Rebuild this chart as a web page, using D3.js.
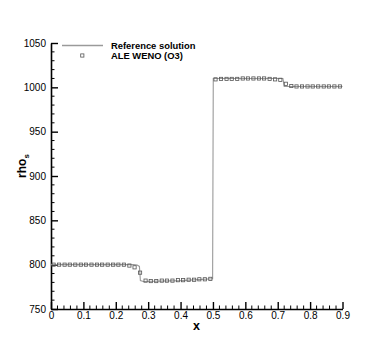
<!DOCTYPE html>
<html><head><meta charset="utf-8">
<script src="https://cdn.jsdelivr.net/npm/d3@7"></script>
<style>
html,body{margin:0;padding:0;background:#fff;}
svg{display:block;font-family:"Liberation Sans",Arial,Helvetica,sans-serif;}
</style></head>
<body><svg id="c" width="390" height="347"></svg>
<script>
// ---- data ----
const xTicks = [0,0.1,0.2,0.3,0.4,0.5,0.6,0.7,0.8,0.9];
const yTicks = [750,800,850,900,950,1000,1050];
const refX = [0,0.255,0.266,0.273,0.276,0.285,0.4,0.499,0.501,0.6,0.716,0.72,0.9];
const refY = [800,800,799.5,798,782,781,782,784,1010,1010,1010,1001,1001];
const aleX = [0.008,0.025,0.042,0.058,0.075,0.092,0.108,0.125,0.142,0.158,0.175,0.192,0.208,0.225,
  0.242,0.258,0.275,0.292,0.308,0.325,0.342,0.358,0.375,0.392,0.408,0.425,0.442,0.458,0.475,0.492,
  0.508,0.525,0.542,0.558,0.575,0.592,0.608,0.625,0.642,0.658,0.675,0.692,0.708,0.725,0.742,0.758,
  0.775,0.792,0.808,0.825,0.842,0.858,0.875,0.892];
const aleY = [800,800,800,800,800,800,800,800,800,800,800,800,800,800,
  799,797,791,782,781.5,781.5,782,782,782,782.5,782.5,783,783,783.5,783.5,784,
  1009,1009.5,1009.5,1009.5,1009.5,1010,1010,1010,1010,1010,1009.5,1009,1008.5,1004,1001.5,1001,
  1001,1001,1001,1001,1001,1001,1001,1001];
const seriesNames = ["Reference solution","ALE WENO (O3)"];

// ---- chart ----
const svg = d3.select("#c");
const x = d3.scaleLinear().domain([0,0.9]).range([51,342.5]);
const y = d3.scaleLinear().domain([750,1050]).range([309,43]);

const minorX = d3.range(0,0.9001,0.02).filter(v=>Math.abs(v*10-Math.round(v*10))>1e-6);
const minorY = d3.range(750,1050.1,10).filter(v=>v%50!==0);

// minor ticks
svg.append("g").selectAll("line").data(minorX).join("line")
  .attr("x1",d=>x(d)).attr("x2",d=>x(d)).attr("y1",y(750)).attr("y2",y(750)-3.5)
  .attr("stroke","#000").attr("stroke-width",1);
svg.append("g").selectAll("line").data(minorY).join("line")
  .attr("y1",d=>y(d)).attr("y2",d=>y(d)).attr("x1",x(0)).attr("x2",x(0)+3.5)
  .attr("stroke","#000").attr("stroke-width",1);

const gx = svg.append("g").attr("transform",`translate(0,${y(750)})`)
  .call(d3.axisBottom(x).tickValues(xTicks).tickSizeInner(-7).tickSizeOuter(0).tickPadding(3)
    .tickFormat(d=>d===0?"0":d3.format(".1f")(d)));
const gy = svg.append("g").attr("transform",`translate(${x(0)},0)`)
  .call(d3.axisLeft(y).tickValues(yTicks).tickSizeInner(-7).tickSizeOuter(0).tickPadding(5)
    .tickFormat(d3.format("d")));
[gx,gy].forEach(g=>{
  g.select(".domain").attr("stroke","#000").attr("stroke-width",1.6);
  g.selectAll(".tick line").attr("stroke","#000").attr("stroke-width",1.4);
  g.selectAll(".tick text").attr("font-size",10).attr("fill","#000")
    .attr("font-family","'Liberation Sans',Arial,sans-serif");
});

// reference line
const line = d3.line().x((d,i)=>x(refX[i])).y((d,i)=>y(refY[i]));
svg.append("path").datum(refX).attr("d",line).attr("fill","none")
  .attr("stroke","#9a9a9a").attr("stroke-width",1.1);

// markers
svg.append("g").selectAll("rect").data(aleX).join("rect")
  .attr("x",(d,i)=>x(d)-1.6).attr("y",(d,i)=>y(aleY[i])-1.6)
  .attr("width",3.2).attr("height",3.2)
  .attr("fill","none").attr("stroke","#555").attr("stroke-width",0.8);

// legend
svg.append("line").attr("x1",62).attr("x2",103).attr("y1",45.5).attr("y2",45.5)
  .attr("stroke","#9a9a9a").attr("stroke-width",1.3);
svg.append("rect").attr("x",82.3-1.6).attr("y",55.5-1.6).attr("width",3.2).attr("height",3.2)
  .attr("fill","none").attr("stroke","#555").attr("stroke-width",0.8);
svg.append("g").selectAll("text").data(seriesNames).join("text")
  .attr("x",111).attr("y",(d,i)=>45.5+i*10.5).attr("dy","0.35em")
  .attr("font-size",9.4).attr("font-weight","bold").attr("fill","#000").text(d=>d);

// axis titles
svg.append("text").attr("x",196.5).attr("y",326).attr("dy","0.35em").attr("text-anchor","middle")
  .attr("font-size",12.5).attr("font-weight","bold").text("x");
const yt = svg.append("text").attr("transform","translate(26,166) rotate(-90)")
  .attr("text-anchor","middle").attr("font-size",12).attr("font-weight","bold");
yt.append("tspan").text("rho");
yt.append("tspan").attr("font-size",8).attr("dy",3).text("s");
</script></body></html>
